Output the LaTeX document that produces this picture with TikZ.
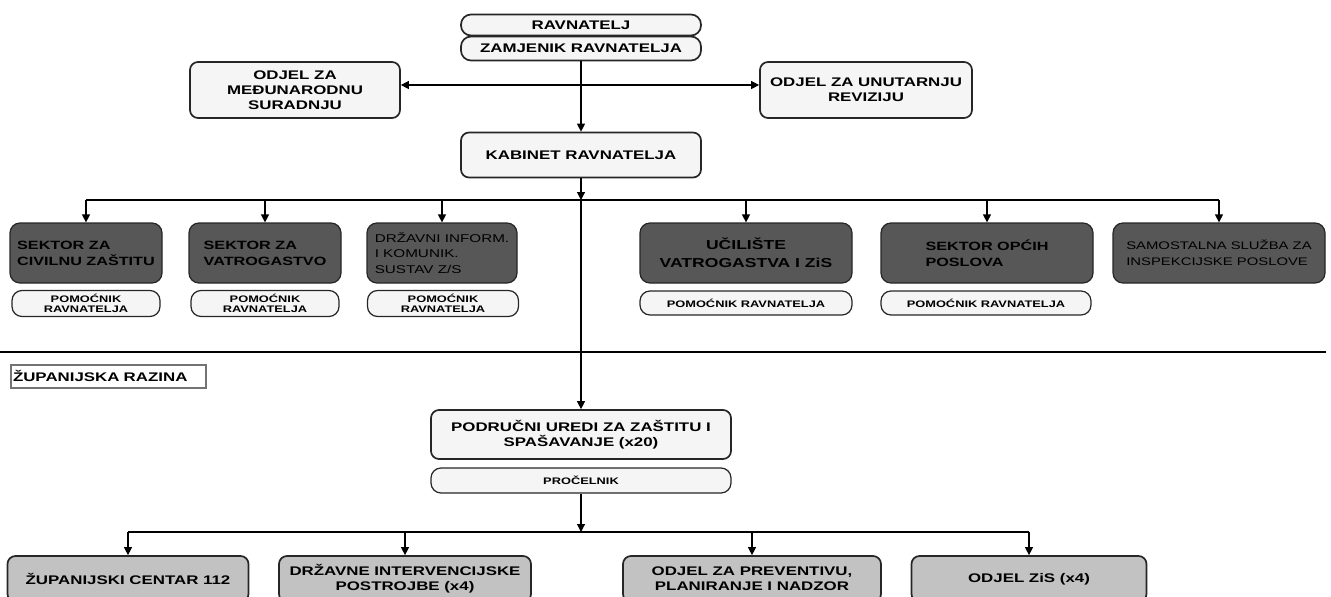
\documentclass[tikz,border=0pt]{standalone}
\usepackage{fontspec}
\setmainfont{Liberation Sans}[FakeStretch=1.35]
\usetikzlibrary{arrows.meta}
\begin{document}
\begin{tikzpicture}[x=1pt,y=-1pt,
		box/.style={draw=black!85,line width=1.7pt,rounded corners=8pt,inner sep=0pt,align=center,font=\bfseries\fontsize{12.5}{15}\selectfont},
		lightbox/.style={box,fill=black!4},
		darkbox/.style={box,fill=black!66,line width=1.2pt,rounded corners=10pt,minimum height=60pt,align=left,font=\bfseries\fontsize{12}{16}\selectfont},
		greybox/.style={box,fill=black!24,minimum height=46pt},
		helper/.style={lightbox,rounded corners=10pt,line width=1.2pt,minimum height=26pt,font=\bfseries\fontsize{9.5}{10.5}\selectfont},
		conn/.style={line width=1.2pt,-{Triangle[length=8pt,width=8pt]}}]
	\useasboundingbox (0,0) rectangle (1331,597);
	\node[lightbox,rounded corners=10pt,minimum width=240pt,minimum height=21pt] (rav) at (581,25) {RAVNATELJ};
	\node[lightbox,rounded corners=10pt,minimum width=240pt,minimum height=24pt] (zam) at (581,48.5) {ZAMJENIK RAVNATELJA};
	\node[lightbox,minimum width=210pt,minimum height=56pt] (med) at (295,90) {ODJEL ZA\\MEĐUNARODNU\\SURADNJU};
	\node[lightbox,minimum width=212pt,minimum height=56pt] (rev) at (866,90) {ODJEL ZA UNUTARNJU\\REVIZIJU};
	\node[lightbox,minimum width=240pt,minimum height=45pt] (kab) at (581,155) {KABINET RAVNATELJA};

	\node[darkbox,minimum width=152pt] (civ) at (86,253) {SEKTOR ZA\\CIVILNU ZAŠTITU};
	\node[darkbox,minimum width=152pt] (vat) at (265,253) {SEKTOR ZA\\VATROGASTVO};
	\node[darkbox,minimum width=150pt,font=\fontsize{11.3}{15.5}\selectfont] (inf) at (442,253) {DRŽAVNI INFORM.\\I KOMUNIK.\\SUSTAV Z/S};
	\node[darkbox,minimum width=212pt,align=center,font=\bfseries\fontsize{13}{18}\selectfont] (uci) at (746,253) {UČILIŠTE\\VATROGASTVA I ZiS};
	\node[darkbox,minimum width=212pt] (opc) at (987,253) {SEKTOR OPĆIH\\POSLOVA};
	\node[darkbox,minimum width=212pt,font=\fontsize{11}{16}\selectfont] (sam) at (1219,253) {SAMOSTALNA SLUŽBA ZA\\INSPEKCIJSKE POSLOVE};

	\node[helper,minimum width=148pt] (pciv) at (86,303.5) {POMOĆNIK\\RAVNATELJA};
	\node[helper,minimum width=148pt] (pvat) at (265,303.5) {POMOĆNIK\\RAVNATELJA};
	\node[helper,minimum width=151pt] (pinf) at (443,303.5) {POMOĆNIK\\RAVNATELJA};
	\node[helper,minimum width=212pt,minimum height=24pt] (puci) at (746,303) {POMOĆNIK RAVNATELJA};
	\node[helper,minimum width=210pt,minimum height=24pt] (popc) at (986,303) {POMOĆNIK RAVNATELJA};

	\draw[line width=1.2pt] (0,352) -- (1326,352);
	\node[draw=black!55,line width=2pt,fill=white,text width=191pt,minimum height=23pt,inner sep=2pt,align=left,anchor=west,font=\bfseries\fontsize{12.5}{15}\selectfont] (zup) at (10,376) {ŽUPANIJSKA RAZINA};

	\node[lightbox,minimum width=300pt,minimum height=49pt] (pod) at (581,434.5) {PODRUČNI UREDI ZA ZAŠTITU I\\SPAŠAVANJE (x20)};
	\node[helper,minimum width=300pt,minimum height=25pt] (pro) at (581,480.5) {PROČELNIK};

	\node[greybox,minimum width=241pt] (c112) at (128,579) {ŽUPANIJSKI CENTAR 112};
	\node[greybox,minimum width=252pt] (dip) at (405,579) {DRŽAVNE INTERVENCIJSKE\\POSTROJBE (x4)};
	\node[greybox,minimum width=258pt] (ppn) at (752,579) {ODJEL ZA PREVENTIVU,\\PLANIRANJE I NADZOR};
	\node[greybox,minimum width=235pt] (zis) at (1029,579) {ODJEL ZiS (x4)};

	\coordinate (mid) at (581,85);
	\coordinate (bus) at (581,200);
	\coordinate (bus2) at (581,532);
	\draw[conn] (zam) -- (kab);
	\draw[conn] (mid) -- (mid -| med.east);
	\draw[conn] (mid) -- (mid -| rev.west);
	\draw[conn] (kab) -- (bus);
	\draw[line width=1.2pt] (bus -| civ) -- (bus -| sam);
	\foreach \n in {civ,vat,inf,uci,opc,sam}
		\draw[conn] (bus -| \n) -- (\n);
	\draw[conn] (bus) -- (pod);
	\draw[conn] (pro) -- (bus2);
	\draw[line width=1.2pt] (bus2 -| c112) -- (bus2 -| zis);
	\foreach \n in {c112,dip,ppn,zis}
		\draw[conn] (bus2 -| \n) -- (\n);
\end{tikzpicture}
\end{document}
